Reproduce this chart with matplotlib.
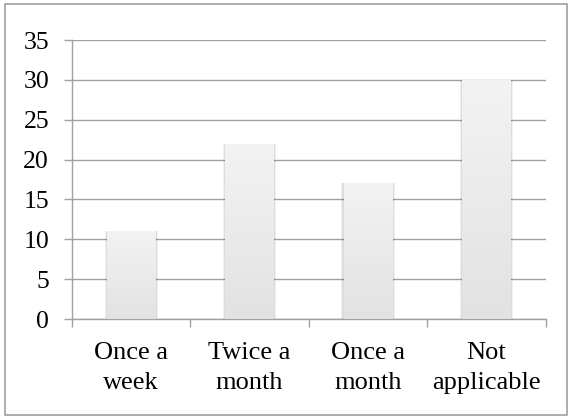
import matplotlib
matplotlib.use("Agg")
import matplotlib.pyplot as plt
import numpy as np
from matplotlib.patches import Rectangle
from matplotlib.colors import LinearSegmentedColormap

categories = ["Once a\nweek", "Twice a\nmonth", "Once a\nmonth", "Not\napplicable"]
values = [11, 22, 17, 30]
yticks = [0, 5, 10, 15, 20, 25, 30, 35]

plt.rcParams['font.family'] = ['Liberation Serif', 'DejaVu Serif']

W, H = 571, 419
fig = plt.figure(figsize=(W/100, H/100), dpi=100)
ax = fig.add_axes([72/W, 1-319/H, (545.5-72)/W, (319-40)/H])

grid_c = '#a0a0a0'
x = np.arange(len(categories))
bars = ax.bar(x, values, width=0.41, color='none', edgecolor='none', zorder=3)

grad = np.linspace(0, 1, 256).reshape(-1, 1)
cmap = LinearSegmentedColormap.from_list('g', ['#e2e2e2', '#f3f3f3'])
for b in bars:
    x0, y0 = b.get_x(), b.get_y()
    w, h = b.get_width(), b.get_height()
    for k, a in [(0.02, 0.06), (0.012, 0.08)]:
        sh = Rectangle((x0 - k, y0), w + 2*k, h, facecolor='#000000', alpha=a,
                       edgecolor='none', zorder=2.5)
        ax.add_patch(sh)
    im = ax.imshow(grad, extent=[x0, x0 + w, y0, y0 + h], origin='lower',
                   cmap=cmap, aspect='auto', zorder=3)
    im.set_clip_path(b)

ax.set_xlim(-0.5, len(categories) - 0.5)
ax.set_ylim(0, 35)
ax.set_yticks(yticks)
ax.set_yticklabels([str(t) for t in yticks])
ax.yaxis.grid(True, color=grid_c, linewidth=1.0, zorder=1)
ax.set_axisbelow(True)

ax.set_xticks(x)
ax.set_xticklabels(categories, multialignment='center', linespacing=1.45)
ax.set_xticks(np.arange(-0.5, len(categories), 1.0), minor=True)
ax.tick_params(axis='x', which='major', length=0, pad=16.5, labelsize=19)
ax.tick_params(axis='x', which='minor', length=5.5, color=grid_c, width=1.0)
ax.tick_params(axis='y', which='major', length=5.5, color=grid_c, width=1.0, pad=11, labelsize=18.5)

for s in ['top', 'right']:
    ax.spines[s].set_visible(False)
for s in ['left', 'bottom']:
    ax.spines[s].set_color(grid_c)
    ax.spines[s].set_linewidth(1.0)

fig.patches.append(Rectangle((4.5/W, 1-415/H), (567-4.5)/W, (415-4.5)/H,
                             transform=fig.transFigure, fill=False,
                             edgecolor='#a0a0a0', linewidth=1.2))

fig.savefig('out.png', dpi=100)
